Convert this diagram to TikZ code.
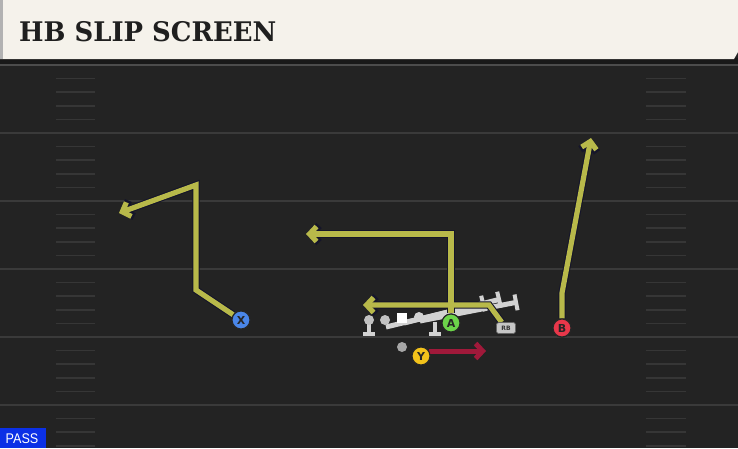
\documentclass[tikz,border=0pt]{standalone}
\usepackage{fontspec}
\setmainfont{DejaVu Sans}
\newfontfamily\titlefont{DejaVu Serif}
\newfontfamily\labfont{DejaVu Sans}
\newfontfamily\passfont{Liberation Sans}
\usetikzlibrary{arrows.meta}
\definecolor{field}{HTML}{232323}
\definecolor{header}{HTML}{F5F2EB}
\definecolor{yard}{HTML}{3A3A3A}
\definecolor{hashc}{HTML}{363636}
\definecolor{routeY}{HTML}{B8B94A}
\definecolor{routeR}{HTML}{A0193A}
\definecolor{outl}{HTML}{15152A}
\definecolor{pX}{HTML}{4A86E8}
\definecolor{pA}{HTML}{6CD44A}
\definecolor{pB}{HTML}{E8374A}
\definecolor{pY}{HTML}{F2C21B}
\definecolor{oline}{HTML}{D2D2D2}
\definecolor{passblue}{HTML}{0B30E6}
\tikzset{
  player/.style={circle, draw=black!85, line width=1.1pt, minimum size=18pt, inner sep=0pt, font=\labfont\bfseries\fontsize{11}{11}\selectfont, text=black!85},
  rbtag/.style={rounded corners=2.5pt, fill=oline!85!gray, draw=black!60, line width=0.6pt, minimum width=19pt, minimum height=11pt, inner sep=0pt, font=\labfont\bfseries\fontsize{6}{6}\selectfont, text=black!80},
  routeout/.style={draw=outl, line width=7.4pt, line join=miter, -{Straight Barb[length=8pt,width=17pt]}},
  routein/.style={draw=routeY, line width=5.2pt, line join=miter, -{Straight Barb[length=7pt,width=15pt]}},
  routered/.style={draw=routeR, line width=5pt, -{Straight Barb[length=7pt,width=15pt]}},
  blockln/.style={draw=oline, line width=5pt, -{Bar[width=16pt,line width=4pt]}},
  yardln/.style={draw=yard, line width=2pt},
  hashln/.style={draw=hashc, line width=1.5pt},
  lman/.style={circle, fill=oline!80!gray, minimum size=10pt, inner sep=0pt},
}
\begin{document}
\begin{tikzpicture}[x=1pt,y=-1pt]
\useasboundingbox (0,0) rectangle (738,448);
\fill[field] (0,0) rectangle (738,448);
% header
\fill[black!90] (0,58) rectangle (738,64);
\fill[header] (0,0) -- (738,0) -- (738,52) -- (734,59) -- (0,59) -- cycle;
\fill[gray!60] (0,0) rectangle (3,59);
\node[anchor=west, inner sep=0pt, font=\titlefont\bfseries\fontsize{27}{27}\selectfont, text=black!88, xscale=0.96] (title) at (19,32) {HB SLIP SCREEN};
% yard lines
\foreach \yy in {133,201,269,337,405} {
  \draw[yardln] (0,\yy) -- (738,\yy);
}
\draw[draw=black!70,line width=1.5pt] (0,65) -- (738,65);
% hash marks
\foreach \base in {65,133,201,269,337,405} {
  \foreach \k in {1,2,3,4} {
    \pgfmathsetmacro{\hy}{\base+13.6*\k}
    \draw[hashln] (56,\hy) -- (95,\hy);
    \draw[hashln] (646,\hy) -- (686,\hy);
  }
}
% offensive line
\draw[blockln] (386,327) -- (485,303);
\draw[blockln] (404,323) -- (501,299);
\draw[blockln] (420,321) -- (518,302);
\foreach \px/\py in {369/321,435/322} {
  \draw[draw=oline, line width=4pt] (\px,\py) -- (\px,333);
  \draw[draw=oline, line width=4pt] (\px-6,334) -- (\px+6,334);
}
\node[lman] (t1) at (369,320) {};
\node[lman] (g1) at (385,320) {};
\node[fill=white, minimum size=10pt, inner sep=0pt] (c1) at (402,318) {};
\node[lman, fill=oline] (g2) at (419,317) {};
\node[circle, fill=gray!70, minimum size=10pt, inner sep=0pt] (qb) at (402,347) {};
% players
\node[player, fill=pX] (X) at (241,320) {X};
\node[player, fill=pA] (A) at (451,323) {A};
\node[player, fill=pB] (B) at (562,328) {B};
\node[player, fill=pY] (Y) at (421,356) {Y};
\node[rbtag] (RB) at (506,328) {RB};
% route coordinates
\coordinate (x1) at (196,290);
\coordinate (x2) at (196,185);
\coordinate (x3) at (119,213);
\coordinate (a1) at (451,234);
\coordinate (a2) at (306,234);
\coordinate (r1) at (489,305);
\coordinate (r2) at (363,305);
\coordinate (b1) at (562,293);
\coordinate (b2) at (591,138);
\coordinate (y0) at (429,351);
\coordinate (y1) at (486,351);
% routes outlines
\draw[routeout] (X) -- (x1) -- (x2) -- (x3);
\draw[routeout] (A) -- (a1) -- (a2);
\draw[routeout] (RB) -- (r1) -- (r2);
\draw[routeout] (B) -- (b1) -- (b2);
% routes
\draw[routein] (X) -- (x1) -- (x2) -- (x3);
\draw[routein] (A) -- (a1) -- (a2);
\draw[routein] (RB) -- (r1) -- (r2);
\draw[routein] (B) -- (b1) -- (b2);
\draw[routered] (y0) -- (y1);
% redraw players on top
\node[player, fill=pX] at (X) {X};
\node[player, fill=pA] at (A) {A};
\node[player, fill=pB] at (B) {B};
\node[player, fill=pY] at (Y) {Y};
\node[rbtag] at (RB) {RB};
% pass tag
\fill[passblue] (0,428) rectangle (46,448);
\node[inner sep=0pt, font=\passfont\fontsize{14}{14}\selectfont, text=white, xscale=0.9] (pass) at (22,439) {PASS};
\end{tikzpicture}
\end{document}
